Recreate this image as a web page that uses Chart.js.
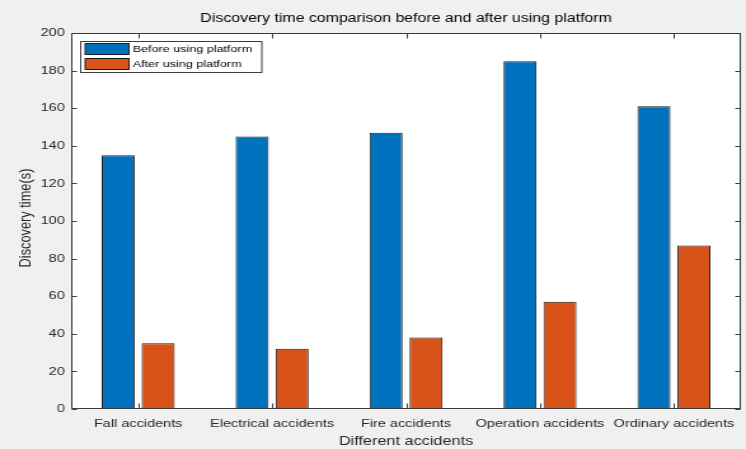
<!DOCTYPE html>
<html>
<head>
<meta charset="utf-8">
<script src="https://cdn.jsdelivr.net/npm/chart.js@4.4.1/dist/chart.umd.min.js"></script>
<style>
  html, body { margin: 0; padding: 0; background: #f0f0f0; overflow: hidden; }
  #wrap { width: 746px; height: 449px; position: relative; overflow: hidden; }
  /* the figure is laid out on a narrower canvas and widened to the page width */
  #c { position: absolute; left: 0; top: 0; transform-origin: 0 0; }
</style>
</head>
<body>
<div id="wrap"><canvas id="c" width="587" height="449"></canvas></div>
<script>
// ---- data ----
const categories = ['Fall accidents', 'Electrical accidents', 'Fire accidents', 'Operation accidents', 'Ordinary accidents'];
const beforeTimes = [135, 145, 147, 185, 161];
const afterTimes = [35, 32, 38, 57, 87];
const seriesNames = ['Before using platform', 'After using platform'];
const yTickValues = [0, 20, 40, 60, 80, 100, 120, 140, 160, 180, 200];
const chartTitle = 'Discovery time comparison before and after using platform';
const xAxisTitle = 'Different accidents';
const yAxisTitle = 'Discovery time(s)';

// ---- look ----
const FONT = '"Liberation Sans", Arial, Helvetica, sans-serif';
const BLUE = '#0072BD';
const ORANGE = '#D95319';
const EDGE = '#1e1e1e';
const AXIS = '#3c3c3c';
const TEXT = '#262626';
const PAGE_W = 746;

const canvas = document.getElementById('c');
canvas.style.transform = 'scaleX(' + (PAGE_W / canvas.width) + ')';

const figurePlugin = {
  id: 'figure',
  beforeDraw(chart) {
    const { ctx, chartArea: a } = chart;
    ctx.save();
    ctx.fillStyle = '#f0f0f0';
    ctx.fillRect(0, 0, chart.width, chart.height);
    ctx.fillStyle = '#ffffff';
    ctx.fillRect(a.left, a.top, a.right - a.left, a.bottom - a.top);
    ctx.restore();
  },
  afterDatasetsDraw(chart) {
    const { ctx, chartArea: a, scales } = chart;
    const L = Math.round(a.left) + 0.5, R = Math.round(a.right) - 0.5;
    const T = Math.round(a.top) + 0.5, B = Math.round(a.bottom) - 0.5;
    ctx.save();
    ctx.strokeStyle = AXIS;
    ctx.lineWidth = 1;
    ctx.strokeRect(L, T, R - L, B - T);
    ctx.beginPath();
    // inward ticks on the value axis, both sides
    yTickValues.forEach(v => {
      const y = Math.round(scales.y.getPixelForValue(v)) + 0.5;
      ctx.moveTo(L, y); ctx.lineTo(L + 4, y);
      ctx.moveTo(R, y); ctx.lineTo(R - 4, y);
    });
    // inward ticks on the category axis, bottom and top
    categories.forEach((c, i) => {
      const x = Math.round(scales.x.getPixelForValue(i)) + 0.5;
      ctx.moveTo(x, B); ctx.lineTo(x, B - 5);
      ctx.moveTo(x, T); ctx.lineTo(x, T + 5);
    });
    ctx.stroke();
    ctx.restore();
  },
  afterDraw(chart) {
    const { ctx, chartArea: a } = chart;
    const cx = (a.left + a.right) / 2;
    ctx.save();
    // title
    ctx.fillStyle = '#000';
    ctx.font = '12.5px ' + FONT;
    ctx.textAlign = 'center';
    ctx.textBaseline = 'middle';
    ctx.fillText(chartTitle, cx, 19);
    // axis titles
    ctx.fillStyle = TEXT;
    ctx.font = '12.8px ' + FONT;
    ctx.fillText(xAxisTitle, cx, 441);
    ctx.translate(20, (a.top + a.bottom) / 2 - 3);
    ctx.rotate(-Math.PI / 2);
    ctx.fillText(yAxisTitle, 0, 0);
    ctx.restore();

    // legend box inside the plot area
    ctx.save();
    const bx = 63.5, by = 41.5, bw = 142.5, bh = 31;
    ctx.fillStyle = '#ffffff';
    ctx.fillRect(bx, by, bw, bh);
    ctx.strokeStyle = AXIS;
    ctx.lineWidth = 1;
    ctx.strokeRect(bx, by, bw, bh);
    const colors = [BLUE, ORANGE];
    const rows = [43.5, 58.5];
    ctx.font = '9.9px ' + FONT;
    ctx.textAlign = 'left';
    ctx.textBaseline = 'middle';
    seriesNames.forEach((name, i) => {
      ctx.fillStyle = colors[i];
      ctx.fillRect(67, rows[i], 34.5, 11);
      ctx.strokeStyle = EDGE;
      ctx.strokeRect(67, rows[i], 34.5, 11);
      ctx.fillStyle = '#000';
      ctx.fillText(name, 104.5, rows[i] + 6);
    });
    ctx.restore();
  }
};

new Chart(canvas, {
  type: 'bar',
  data: {
    labels: categories,
    datasets: [
      {
        label: seriesNames[0],
        data: beforeTimes,
        backgroundColor: BLUE,
        borderColor: EDGE,
        borderWidth: 1,
        categoryPercentage: 0.597,
        barPercentage: 0.825
      },
      {
        label: seriesNames[1],
        data: afterTimes,
        backgroundColor: ORANGE,
        borderColor: EDGE,
        borderWidth: 1,
        categoryPercentage: 0.597,
        barPercentage: 0.825
      }
    ]
  },
  options: {
    responsive: false,
    animation: false,
    devicePixelRatio: 1,
    layout: { padding: { left: 0, right: 4, top: 33, bottom: 0 } },
    plugins: {
      legend: { display: false },
      title: { display: false },
      tooltip: { enabled: false }
    },
    scales: {
      x: {
        type: 'category',
        offset: true,
        grid: { display: false, drawTicks: false },
        border: { display: false },
        ticks: {
          color: TEXT,
          font: { family: FONT, size: 11.4 },
          padding: 8,
          maxRotation: 0,
          autoSkip: false
        },
        afterFit(scale) { scale.height = 40; }
      },
      y: {
        min: 0,
        max: 200,
        grid: { display: false, drawTicks: false },
        border: { display: false },
        ticks: {
          stepSize: 20,
          color: TEXT,
          font: { family: FONT, size: 11.4 },
          padding: 5
        },
        afterFit(scale) { scale.width = 56; }
      }
    }
  },
  plugins: [figurePlugin]
});
</script>
</body>
</html>
